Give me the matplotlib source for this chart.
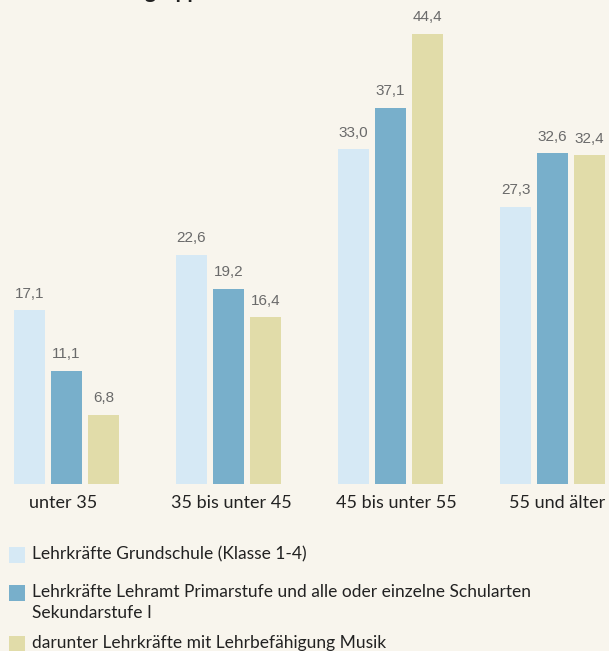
import matplotlib.pyplot as plt
import numpy as np

plt.rcParams["font.family"] = ["Lato", "DejaVu Sans"]

categories = ["unter 35", "35 bis unter 45", "45 bis unter 55", "55 und älter"]
series_names = [
    "Lehrkräfte Grundschule (Klasse 1-4)",
    "Lehrkräfte Lehramt Primarstufe und alle oder einzelne Schularten\nSekundarstufe I",
    "darunter Lehrkräfte mit Lehrbefähigung Musik",
]
grundschule = [17.1, 22.6, 33.0, 27.3]
primar_sek = [11.1, 19.2, 37.1, 32.6]
musik = [6.8, 16.4, 44.4, 32.4]
colors = ["#D6E9F5", "#78AFCB", "#E1DCA9"]
bg = "#F8F5ED"

W, H = 609, 651
fig = plt.figure(figsize=(W / 100, H / 100), dpi=100, facecolor=bg)

# axes in pixel-based layout: baseline at y=483.5 px from top
base_px = 483.5
px_per_unit = 10.13
ax = fig.add_axes([0, (H - base_px) / H, 1, base_px / H])
ax.set_facecolor(bg)
ax.set_xlim(0, W)
ax.set_ylim(0, base_px / px_per_unit)
ax.axis("off")

centers = 66.5 + 162 * np.arange(len(categories))
offset = 37
width = 31
for k, vals in enumerate([grundschule, primar_sek, musik]):
    xs = centers + (k - 1) * offset
    ax.bar(xs, vals, width=width, color=colors[k], linewidth=0)
    for x, v in zip(xs, vals):
        ax.text(x, v + 0.95, f"{v:.1f}".replace(".", ","), ha="center", va="bottom",
                fontsize=11, color="#6a6a6a", family=["Liberation Sans"])

label_x = [63, 231, 396, 557]
for x, c in zip(label_x, categories):
    fig.text(x / W, 1 - 503 / H, c, ha="center", va="center", fontsize=13, color="#222222")

# cut-off title at the top
fig.text(40 / W, 1 + 1.5 / H, "nach Altersgruppen", ha="left", va="baseline",
         fontsize=15, fontweight="bold", color="#222222")

# legend
legend_y = [555, 593, 644]
for y, name, col in zip(legend_y, series_names, colors):
    fig.patches.append(plt.Rectangle((9 / W, 1 - (y + 8) / H), 16 / W, 16 / H,
                                     transform=fig.transFigure, color=col, lw=0))
    fig.text(32 / W, 1 - (y - 9) / H, name, ha="left", va="top", fontsize=12.5,
             color="#222222", linespacing=1.4)

fig.savefig("out.png", dpi=100, facecolor=bg)
